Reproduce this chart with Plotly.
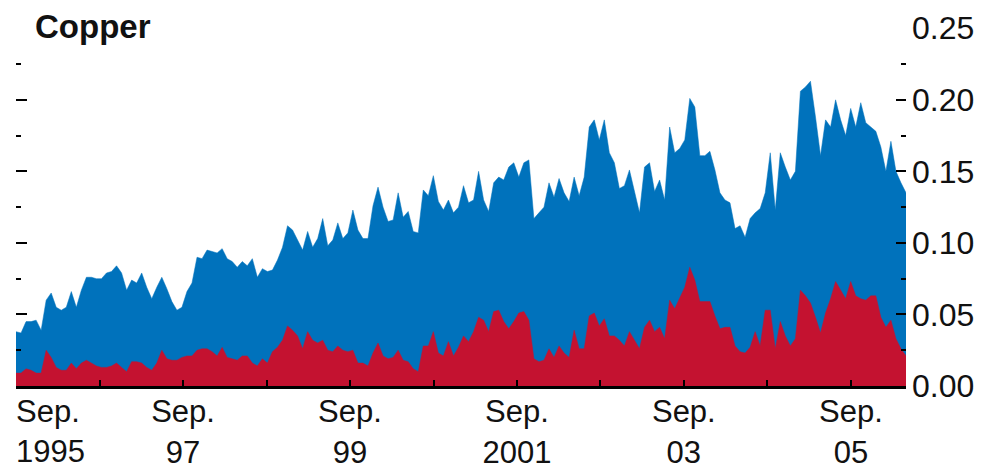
import pandas as pd
import plotly.graph_objects as go

# one reading roughly every three weeks, Sep 1995 to spring 2006
dates = pd.date_range("1995-09-01", periods=178, freq="22D")

blue_total = [
    0.038, 0.037, 0.045, 0.045, 0.046, 0.039, 0.060, 0.065, 0.055, 0.053,
    0.055, 0.066, 0.055, 0.067, 0.076, 0.076, 0.075, 0.075, 0.079, 0.080,
    0.084, 0.079, 0.067, 0.074, 0.072, 0.079, 0.069, 0.061, 0.069, 0.076,
    0.068, 0.059, 0.053, 0.055, 0.066, 0.072, 0.090, 0.089, 0.095, 0.094,
    0.093, 0.096, 0.089, 0.087, 0.083, 0.087, 0.084, 0.089, 0.076, 0.082,
    0.080, 0.081, 0.088, 0.097, 0.112, 0.109, 0.102, 0.095, 0.108, 0.097,
    0.103, 0.117, 0.098, 0.102, 0.114, 0.103, 0.107, 0.123, 0.109, 0.103,
    0.103, 0.126, 0.139, 0.125, 0.115, 0.116, 0.135, 0.118, 0.122, 0.108,
    0.107, 0.137, 0.133, 0.147, 0.129, 0.123, 0.130, 0.121, 0.125, 0.140,
    0.128, 0.130, 0.150, 0.130, 0.122, 0.142, 0.146, 0.144, 0.153, 0.156,
    0.146, 0.156, 0.158, 0.117, 0.121, 0.125, 0.142, 0.132, 0.145, 0.135,
    0.129, 0.146, 0.133, 0.146, 0.181, 0.186, 0.172, 0.186, 0.163, 0.156,
    0.138, 0.140, 0.151, 0.135, 0.121, 0.153, 0.156, 0.136, 0.144, 0.130,
    0.181, 0.163, 0.166, 0.172, 0.201, 0.195, 0.161, 0.161, 0.164, 0.151,
    0.135, 0.130, 0.128, 0.110, 0.112, 0.104, 0.117, 0.121, 0.124, 0.135,
    0.163, 0.123, 0.163, 0.153, 0.144, 0.150, 0.206, 0.209, 0.213, 0.188,
    0.161, 0.186, 0.181, 0.200, 0.186, 0.175, 0.194, 0.181, 0.198, 0.184,
    0.181, 0.178, 0.167, 0.150, 0.171, 0.150, 0.142, 0.135,
]

red_part = [
    0.009, 0.009, 0.012, 0.011, 0.009, 0.009, 0.025, 0.020, 0.013, 0.011,
    0.011, 0.016, 0.012, 0.016, 0.018, 0.016, 0.014, 0.013, 0.013, 0.014,
    0.016, 0.013, 0.010, 0.017, 0.017, 0.016, 0.013, 0.011, 0.016, 0.025,
    0.019, 0.018, 0.018, 0.020, 0.021, 0.021, 0.025, 0.026, 0.026, 0.024,
    0.021, 0.027, 0.020, 0.019, 0.018, 0.021, 0.021, 0.016, 0.014, 0.019,
    0.016, 0.024, 0.027, 0.032, 0.042, 0.039, 0.035, 0.026, 0.038, 0.032,
    0.030, 0.032, 0.025, 0.024, 0.028, 0.025, 0.024, 0.025, 0.016, 0.016,
    0.014, 0.023, 0.030, 0.021, 0.019, 0.020, 0.025, 0.018, 0.017, 0.012,
    0.010, 0.028, 0.028, 0.038, 0.023, 0.021, 0.031, 0.021, 0.027, 0.035,
    0.031, 0.038, 0.048, 0.046, 0.038, 0.052, 0.053, 0.045, 0.040, 0.045,
    0.051, 0.052, 0.046, 0.019, 0.017, 0.018, 0.026, 0.020, 0.028, 0.023,
    0.020, 0.039, 0.026, 0.026, 0.049, 0.051, 0.042, 0.047, 0.035, 0.035,
    0.032, 0.028, 0.038, 0.032, 0.026, 0.041, 0.046, 0.038, 0.041, 0.033,
    0.060, 0.054, 0.062, 0.069, 0.083, 0.074, 0.059, 0.059, 0.059, 0.049,
    0.040, 0.041, 0.041, 0.028, 0.024, 0.023, 0.027, 0.038, 0.028, 0.053,
    0.053, 0.026, 0.045, 0.035, 0.028, 0.033, 0.067, 0.063, 0.058, 0.048,
    0.037, 0.051, 0.061, 0.073, 0.067, 0.061, 0.073, 0.063, 0.061, 0.060,
    0.063, 0.063, 0.048, 0.041, 0.046, 0.033, 0.026, 0.021,
]

sep_ticks = pd.date_range("1995-09-01", "2005-09-01", freq="12MS")
sep_labels = ["", "", "Sep.<br>97", "", "Sep.<br>99", "", "Sep.<br>2001", "",
              "Sep.<br>03", "", "Sep.<br>05"]
first_label = "Sep.<br>1995"
y_ticks = [0, 0.05, 0.10, 0.15, 0.20, 0.25]

BLUE = "#0072bc"
RED = "#c41230"
FONT = "Liberation Sans, Arial, sans-serif"

fig = go.Figure()

fig.add_trace(go.Scatter(x=dates, y=blue_total, mode="lines", fill="tozeroy",
                         line=dict(color=BLUE, width=0.5), fillcolor=BLUE, name="Total"))
fig.add_trace(go.Scatter(x=dates, y=red_part, mode="lines", fill="tozeroy",
                         line=dict(color=RED, width=0.5), fillcolor=RED, name="Component"))
# invisible trace so the left tick axis and the left-aligned first label are drawn
fig.add_trace(go.Scatter(x=[dates[0]], y=[0], xaxis="x2", yaxis="y2", mode="markers",
                         marker=dict(opacity=0), hoverinfo="skip", showlegend=False))

x_range = [dates[0], dates[-1]]

# page body has an 8px margin, so the figure is sized to fit the window exactly
fig.update_layout(
    width=983, height=466,
    margin=dict(l=8, r=85, t=20, b=88, autoexpand=False),
    paper_bgcolor="white", plot_bgcolor="white",
    showlegend=False,
    font=dict(family=FONT, size=31, color="#111"),
    title=dict(text="<b>Copper</b>", font=dict(family=FONT, size=33, color="#111"),
               x=27 / 983, xanchor="left", xref="container",
               y=1 - 7 / 466, yanchor="top", yref="container", automargin=False),
    xaxis=dict(
        range=x_range,
        tickvals=sep_ticks, ticktext=sep_labels,
        ticks="inside", ticklen=6, tickwidth=2, tickcolor="black",
        showline=True, linecolor="black", linewidth=3,
        showgrid=False, zeroline=False, automargin=False,
        ticklabelstandoff=-4,
        tickfont=dict(size=31),
    ),
    xaxis2=dict(
        range=x_range, overlaying="x", anchor="y",
        tickvals=[sep_ticks[0]], ticktext=[first_label],
        ticklabelposition="outside right", ticks="",
        showline=False, showgrid=False, zeroline=False, automargin=False,
        ticklabelstandoff=4,
        tickfont=dict(size=31),
    ),
    yaxis=dict(
        range=[0, 0.2502], side="right",
        tickvals=y_ticks, tickformat=".2f",
        ticks="inside", ticklen=10, tickwidth=2, tickcolor="black",
        minor=dict(ticks="inside", ticklen=5, tickwidth=2, tickcolor="black", dtick=0.025),
        showgrid=False, zeroline=False, showline=False, automargin=False,
        ticklabelstandoff=5,
        tickfont=dict(size=32),
    ),
    yaxis2=dict(
        range=[0, 0.2502], side="left", overlaying="y", anchor="x",
        tickvals=y_ticks, showticklabels=False,
        ticks="inside", ticklen=11, tickwidth=2, tickcolor="black",
        minor=dict(ticks="inside", ticklen=5, tickwidth=2, tickcolor="black", dtick=0.025),
        showgrid=False, zeroline=False, showline=False, automargin=False,
    ),
)

fig.write_html("out.html")
